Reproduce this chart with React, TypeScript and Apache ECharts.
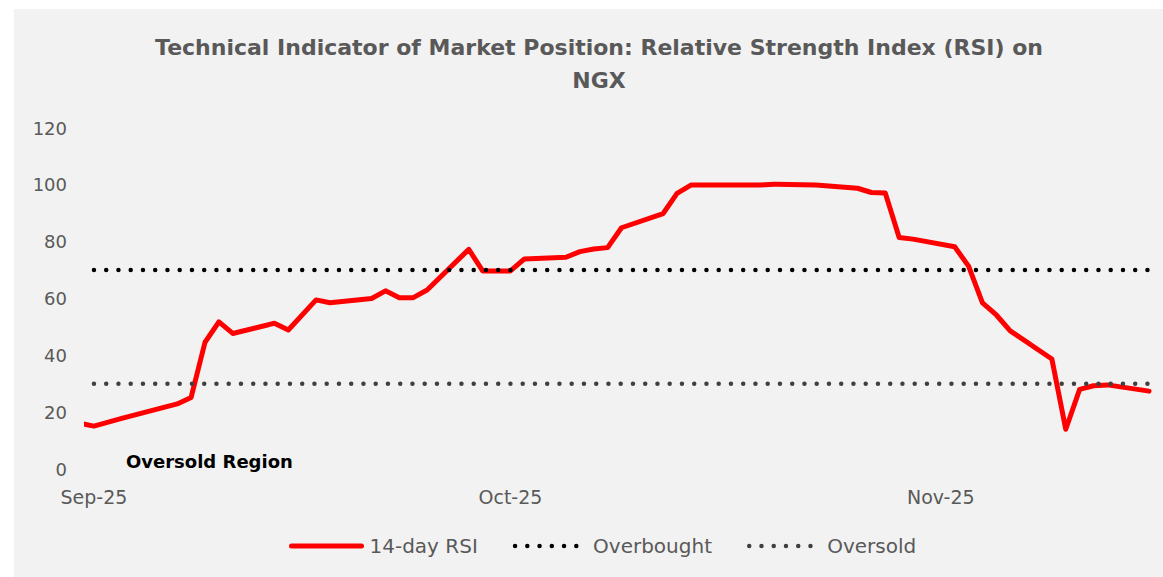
import React, { useEffect, useRef } from 'react';
import * as echarts from 'echarts';

const rsiDates = [
  '2025-08-29', '2025-09-01', '2025-09-03', '2025-09-07', '2025-09-08', '2025-09-09', '2025-09-10', '2025-09-11',
  '2025-09-14', '2025-09-15', '2025-09-17', '2025-09-18', '2025-09-21', '2025-09-22', '2025-09-23', '2025-09-24',
  '2025-09-25', '2025-09-28', '2025-09-29', '2025-10-01', '2025-10-02', '2025-10-05', '2025-10-06', '2025-10-07',
  '2025-10-08', '2025-10-09', '2025-10-12', '2025-10-13', '2025-10-14', '2025-10-19', '2025-10-20', '2025-10-23',
  '2025-10-26', '2025-10-27', '2025-10-28', '2025-10-29', '2025-10-30', '2025-11-02', '2025-11-03', '2025-11-04',
  '2025-11-05', '2025-11-06', '2025-11-09', '2025-11-10', '2025-11-11', '2025-11-12', '2025-11-13', '2025-11-16',
];
const rsiValues = [
  18, 15.1, 17.8, 22.9, 25.2, 44.6, 51.8, 47.7,
  51.3, 48.9, 59.5, 58.5, 60.0, 62.7, 60.3, 60.3,
  63.0, 77.3, 69.7, 69.7, 73.9, 74.5, 76.5, 77.4,
  77.9, 84.9, 89.9, 97.0, 99.9, 99.9, 100.2, 99.9,
  98.8, 97.3, 97.1, 81.5, 80.9, 78.2, 71.4, 58.5,
  54.2, 48.6, 38.7, 14.0, 28.0, 29.3, 29.6, 27.4,
];
const bandDates = ['2025-09-01', '2025-11-16'];
const overboughtValues = [70, 70];
const oversoldValues = [30, 30];
const monthTicks = ['2025-09-01', '2025-10-01', '2025-11-01'];
const monthLabels = ['Sep-25', 'Oct-25', 'Nov-25'];
const seriesNames = ['14-day RSI', 'Overbought', 'Oversold'];
const seriesColors = ['#ff0000', '#000000', '#404040'];
const titleLines = ['Technical Indicator of Market Position: Relative Strength Index (RSI) on', 'NGX'];
const annotation = 'Oversold Region';

const localTime = (s: string, h = 0) => {
  const [y, m, d] = s.split('-').map(Number);
  return new Date(y, m - 1, d, h).getTime();
};

const FONT = '"DejaVu Sans", sans-serif';
const DOTS = [0.01, 12.24];

export default function App() {
  const ref = useRef<HTMLDivElement>(null);
  useEffect(() => {
    const chart = echarts.init(ref.current!, null, { renderer: 'svg' });
    const tickTimes = monthTicks.map((s) => localTime(s));
    chart.setOption({
      animation: false,
      backgroundColor: '#f2f2f2',
      grid: { left: 73, right: 7, top: 119, height: 341 },
      xAxis: {
        type: 'time',
        min: localTime('2025-08-31', 12),
        max: localTime('2025-11-16', 12),
        minInterval: 28 * 86400000,
        splitNumber: 3,
        axisLine: { show: false },
        axisTick: { show: false },
        splitLine: { show: false },
        axisLabel: {
          color: '#595959',
          fontSize: 19,
          fontFamily: FONT,
          margin: 18,
          hideOverlap: false,
          formatter: (v: number) => {
            const i = tickTimes.indexOf(v);
            return i >= 0 ? monthLabels[i] : '';
          },
        },
      },
      yAxis: {
        type: 'value',
        min: 0,
        max: 120,
        interval: 20,
        axisLine: { show: false },
        axisTick: { show: false },
        splitLine: { show: false },
        axisLabel: { color: '#595959', fontSize: 18, fontFamily: FONT, margin: 20 },
      },
      legend: {
        left: 270,
        top: 522,
        itemWidth: 70,
        itemHeight: 14,
        itemGap: 35,
        itemStyle: { opacity: 0 },
        data: [
          { name: seriesNames[0], lineStyle: { width: 5, color: seriesColors[0], cap: 'round' } },
          { name: seriesNames[1], lineStyle: { width: 4.5, color: seriesColors[1], type: DOTS, cap: 'round' } },
          { name: seriesNames[2], lineStyle: { width: 4.5, color: seriesColors[2], type: DOTS, cap: 'round' } },
        ],
        textStyle: { color: '#595959', fontSize: 20, fontFamily: FONT, padding: [0, 0, 0, 3] },
      },
      graphic: [
        {
          type: 'text',
          x: 585,
          y: 38,
          style: { text: titleLines[0], font: `bold 22px ${FONT}`, fill: '#595959', align: 'center', verticalAlign: 'middle' },
        },
        {
          type: 'text',
          x: 585,
          y: 71,
          style: { text: titleLines[1], font: `bold 22px ${FONT}`, fill: '#595959', align: 'center', verticalAlign: 'middle' },
        },
        {
          type: 'text',
          x: 112,
          y: 452,
          style: { text: annotation, font: `bold 18px ${FONT}`, fill: '#000000', align: 'left', verticalAlign: 'middle' },
        },
      ],
      series: [
        {
          name: seriesNames[0],
          type: 'line',
          symbol: 'none',
          color: seriesColors[0],
          lineStyle: { color: seriesColors[0], width: 5, cap: 'round', join: 'round' },
          data: rsiDates.map((d, i) => [d, rsiValues[i]]),
        },
        {
          name: seriesNames[1],
          type: 'line',
          symbol: 'none',
          color: seriesColors[1],
          lineStyle: { color: seriesColors[1], width: 4.5, type: DOTS, cap: 'round' },
          data: bandDates.map((d, i) => [d, overboughtValues[i]]),
        },
        {
          name: seriesNames[2],
          type: 'line',
          symbol: 'none',
          color: seriesColors[2],
          lineStyle: { color: seriesColors[2], width: 4.5, type: DOTS, cap: 'round' },
          data: bandDates.map((d, i) => [d, oversoldValues[i]]),
        },
      ],
    });
    return () => chart.dispose();
  }, []);
  return (
    <div
      ref={ref}
      style={{ position: 'fixed', left: 14, top: 9, width: 1149, height: 568, background: '#f2f2f2' }}
    />
  );
}
